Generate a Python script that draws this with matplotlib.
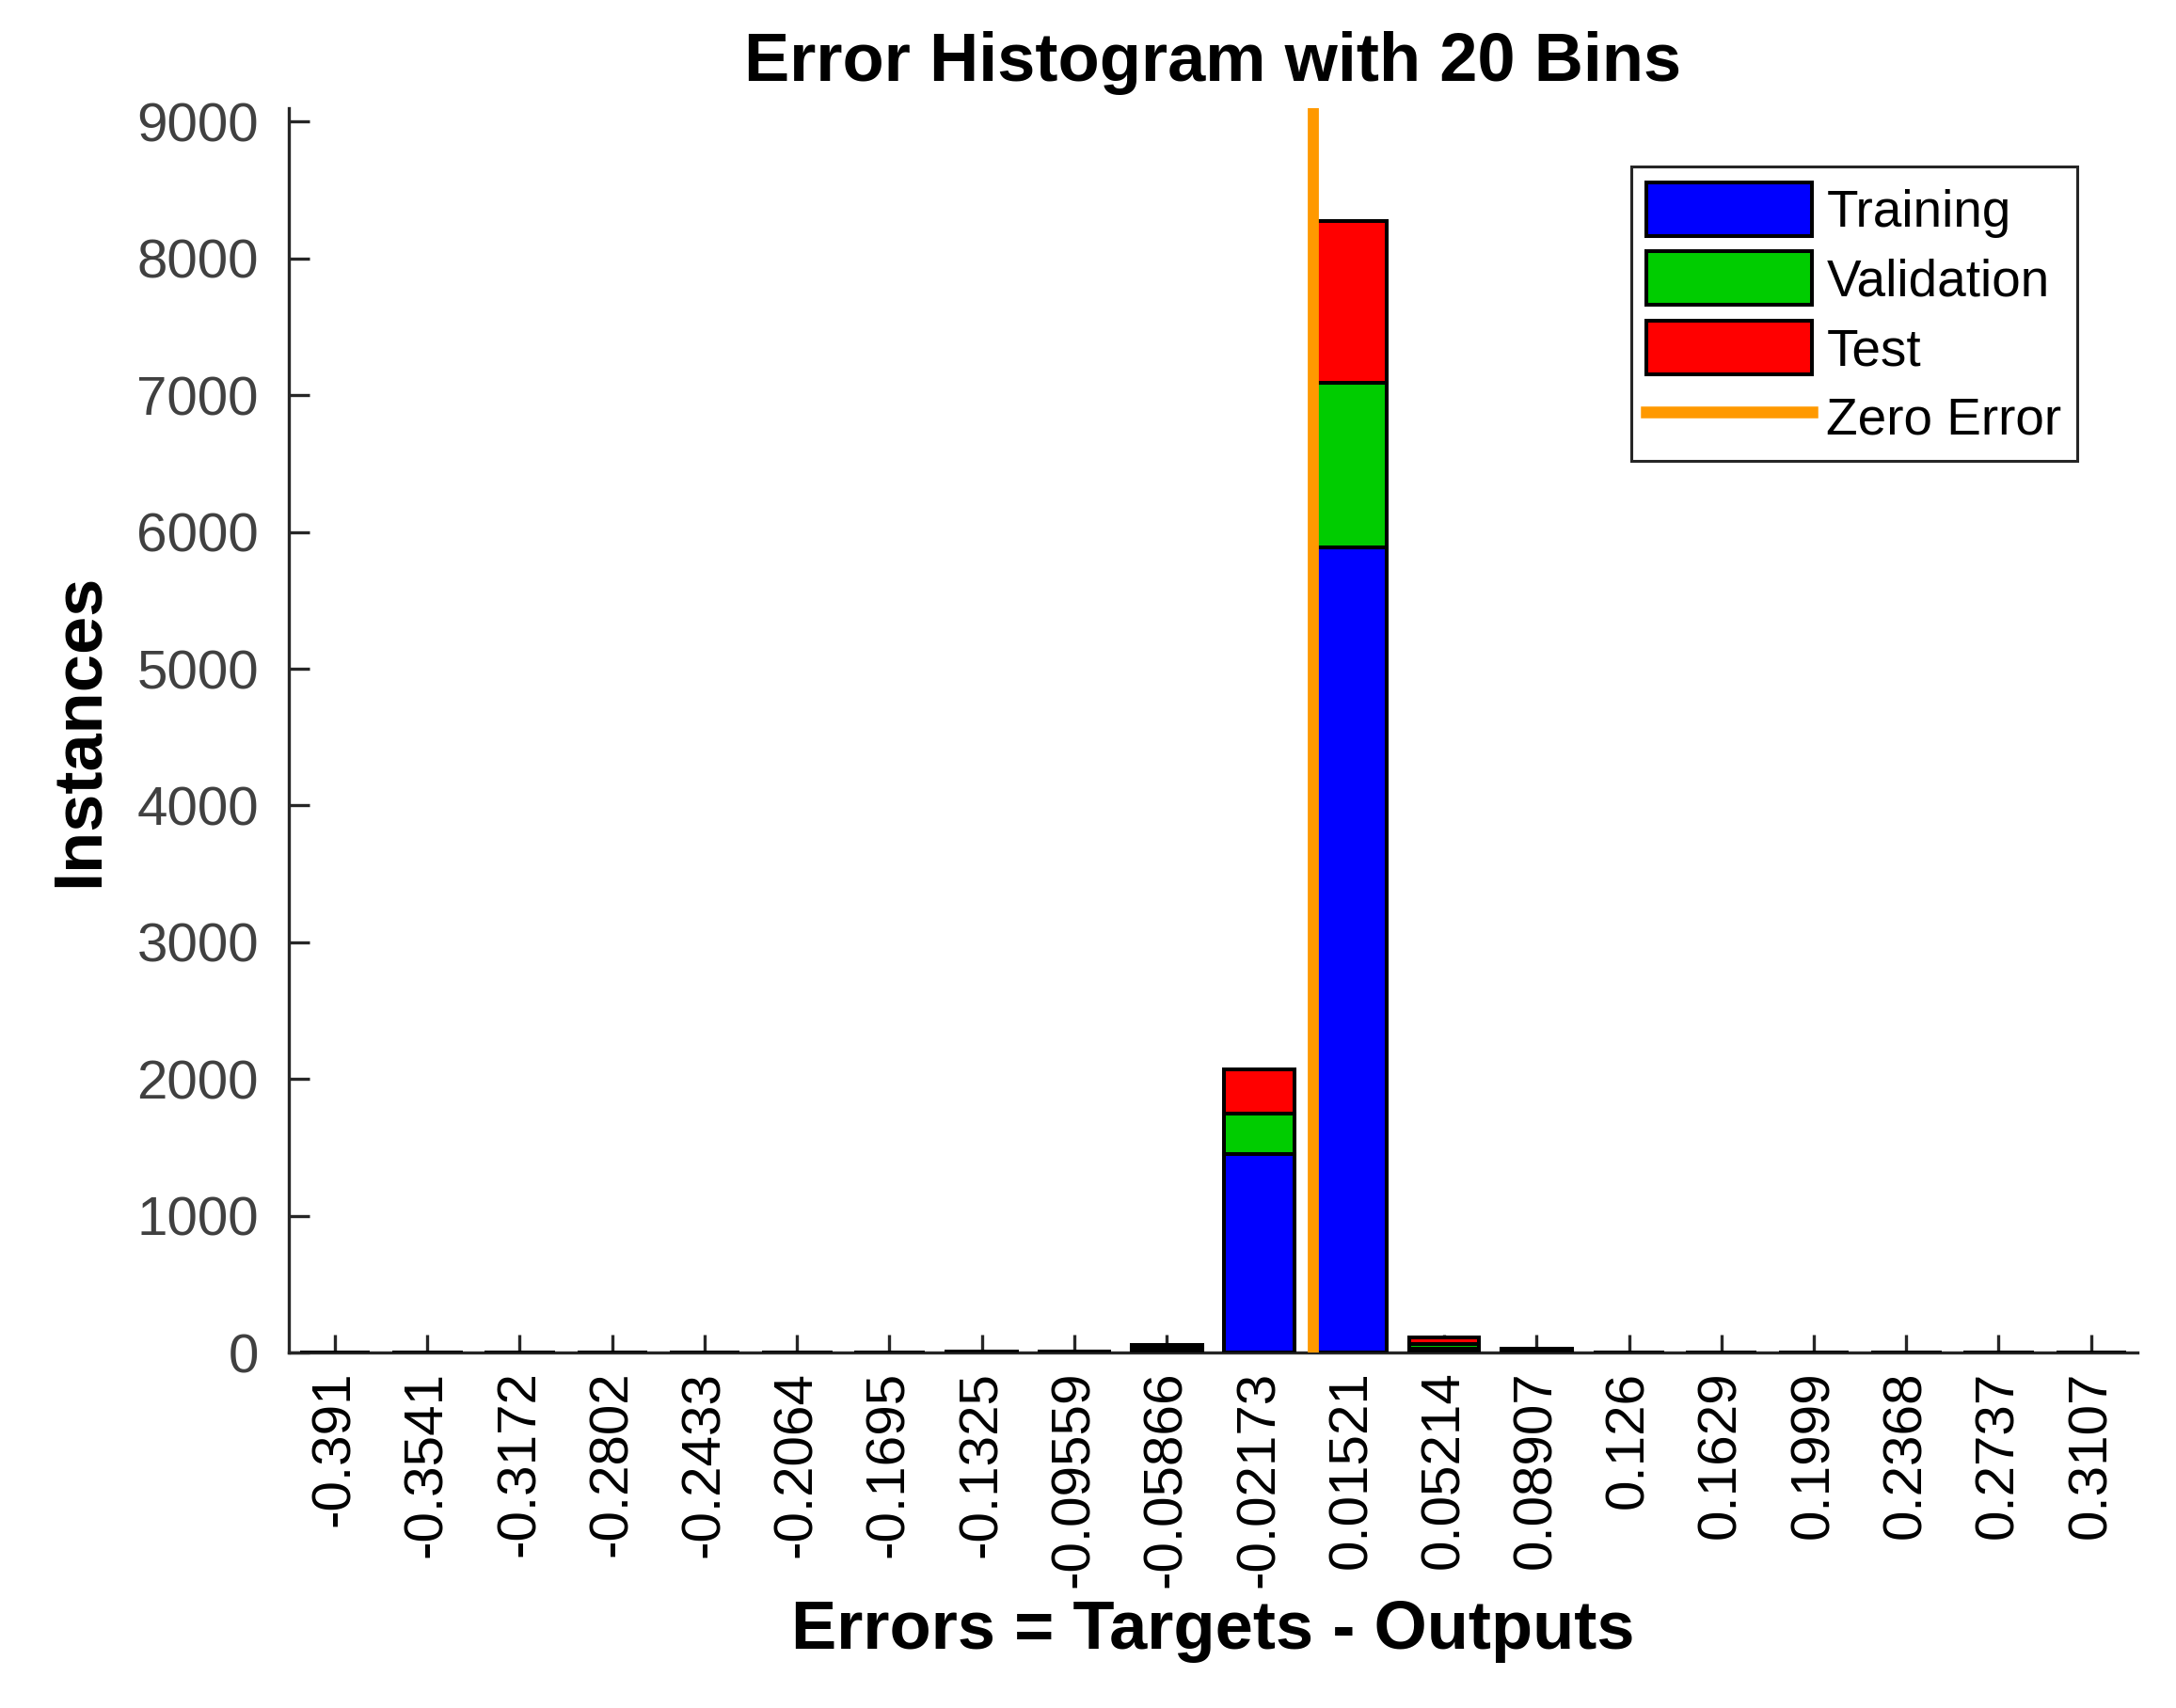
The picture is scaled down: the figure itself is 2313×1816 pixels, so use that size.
import numpy as np
import matplotlib
matplotlib.use('Agg')
import matplotlib.pyplot as plt
from matplotlib.lines import Line2D
from matplotlib.patches import Patch

plt.rcParams['font.family'] = ['Liberation Sans', 'DejaVu Sans']

# bin centers as printed under the x axis
binLabels = ['-0.391', '-0.3541', '-0.3172', '-0.2802', '-0.2433', '-0.2064',
             '-0.1695', '-0.1325', '-0.09559', '-0.05866', '-0.02173', '0.01521',
             '0.05214', '0.08907', '0.126', '0.1629', '0.1999', '0.2368',
             '0.2737', '0.3107']
binCenters = [float(s) for s in binLabels]

# counts per bin
training = [1, 1, 1, 1, 1, 1, 1, 3, 4, 25, 1450, 5890, 30, 15, 2, 2, 1, 1, 1, 1]
validation = [0, 0, 0, 0, 0, 0, 0, 1, 1, 15, 295, 1200, 35, 5, 1, 1, 0, 0, 0, 0]
test = [0, 0, 0, 0, 0, 0, 0, 1, 1, 15, 325, 1185, 45, 5, 1, 1, 0, 0, 0, 0]

yTicks = [0, 1000, 2000, 3000, 4000, 5000, 6000, 7000, 8000, 9000]

blue = '#0000ff'
green = '#00cc00'
red = '#ff0000'
orange = '#ff9900'
axisGrey = '#262626'

fig = plt.figure(figsize=(23.13, 18.16), dpi=100)
ax = fig.add_axes([0.1327, 0.2081, 0.8496, 0.7286])

step = (binCenters[-1] - binCenters[0]) / (len(binCenters) - 1)
width = 0.76 * step
tr = np.array(training)
va = np.array(validation)
te = np.array(test)

barStyle = dict(width=width, edgecolor='black', linewidth=2.9, zorder=2)
ax.bar(binCenters, tr, color=blue, **barStyle)
ax.bar(binCenters, va, bottom=tr, color=green, **barStyle)
ax.bar(binCenters, te, bottom=tr + va, color=red, **barStyle)

ax.axvline(0, color=orange, linewidth=8.5, zorder=3)

ax.set_xlim(binCenters[0] - step / 2, binCenters[-1] + step / 2)
ax.set_ylim(0, 9100)
ax.set_xticks(binCenters)
ax.set_xticklabels(binLabels, rotation=90)
ax.set_yticks(yTicks)

for side in ['top', 'right']:
    ax.spines[side].set_visible(False)
for side in ['left', 'bottom']:
    ax.spines[side].set_color(axisGrey)
    ax.spines[side].set_linewidth(2.4)
    ax.spines[side].set_zorder(1)

ax.tick_params(axis='x', direction='in', length=14, width=2.4, color=axisGrey,
               labelsize=42, labelcolor='black', pad=14)
ax.tick_params(axis='y', direction='in', length=16, width=2.4, color=axisGrey,
               labelsize=42, labelcolor='#404040', pad=23)

ax.set_title('Error Histogram with 20 Bins', fontsize=52, fontweight='bold', pad=21)
ax.set_xlabel('Errors = Targets - Outputs', fontsize=52, fontweight='bold')
ax.set_ylabel('Instances', fontsize=52, fontweight='bold')
ax.xaxis.set_label_coords(0.5, -0.224)
ax.xaxis.label.set_va('center')
ax.yaxis.set_label_coords(-0.113, 0.5)
ax.yaxis.label.set_va('center')

handles = [Patch(facecolor=blue, edgecolor='black', linewidth=2.9, label='Training'),
           Patch(facecolor=green, edgecolor='black', linewidth=2.9, label='Validation'),
           Patch(facecolor=red, edgecolor='black', linewidth=2.9, label='Test'),
           Line2D([0], [0], color=orange, linewidth=9, label='Zero Error')]
leg = ax.legend(handles=handles, loc='upper right', bbox_to_anchor=(0.9674, 0.953),
                fontsize=39.5, fancybox=False, edgecolor=axisGrey, framealpha=1,
                handlelength=3.2, handleheight=1.22, labelspacing=0.27,
                handletextpad=0.28, borderpad=0.3, borderaxespad=0)
leg.get_frame().set_linewidth(2.2)

fig.savefig('out.png', dpi=100)
